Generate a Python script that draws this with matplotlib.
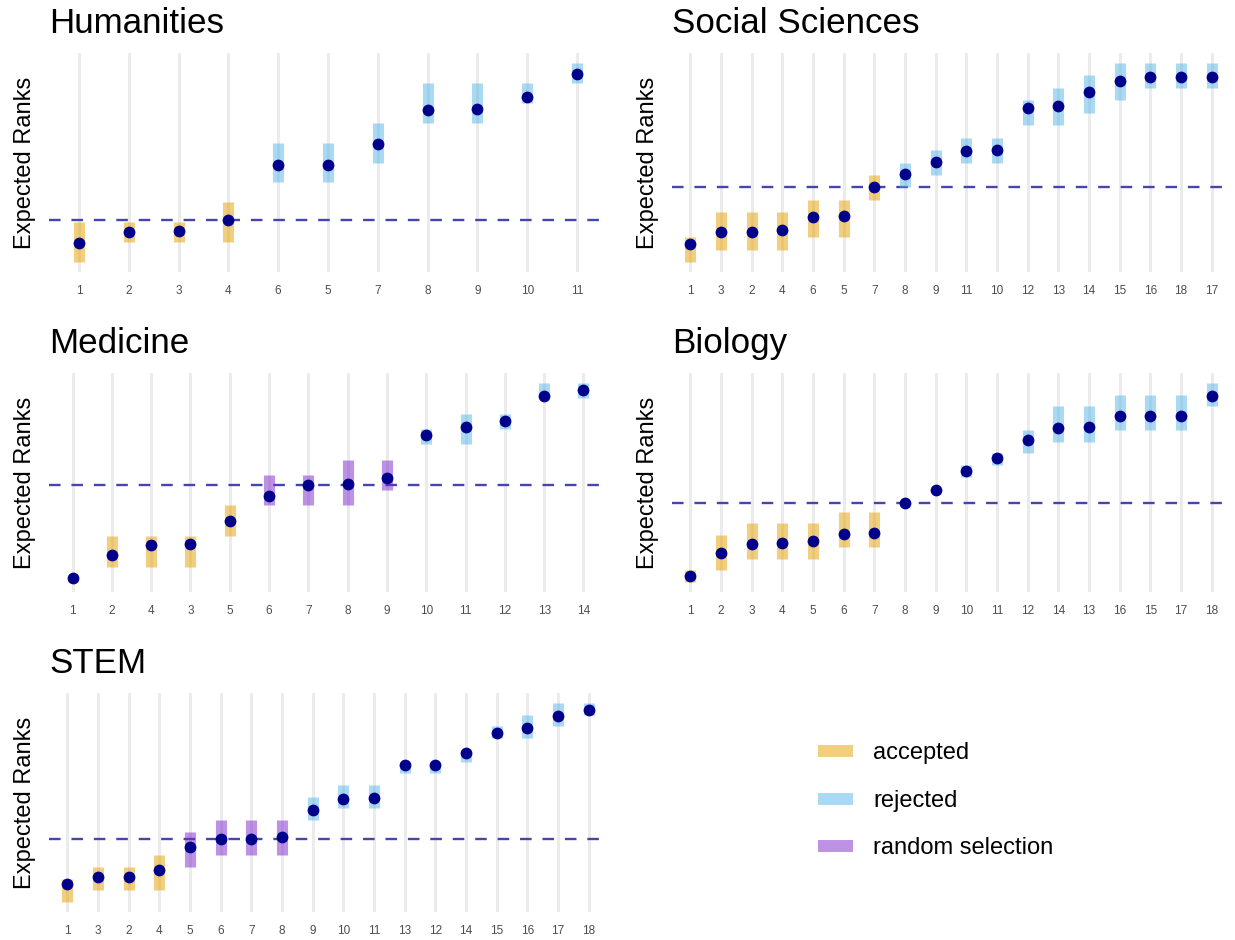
import matplotlib
matplotlib.use("Agg")
import matplotlib.pyplot as plt
from matplotlib.lines import Line2D

plt.rcParams['font.family'] = ['Liberation Sans', 'DejaVu Sans']

# ---------------- data ----------------
hum_labels = ["1", "2", "3", "4", "6", "5", "7", "8", "9", "10", "11"]
hum_rank = [1.95, 2.49, 2.54, 3.13, 5.87, 5.87, 6.95, 8.62, 8.69, 9.31, 10.45]
hum_lo = [1, 2, 2, 2, 5, 5, 6, 8, 8, 9, 10]
hum_hi = [3, 3, 3, 4, 7, 7, 8, 10, 10, 10, 11]
hum_status = ["accepted"] * 4 + ["rejected"] * 7
hum_threshold = 3.13

soc_labels = ["1", "3", "2", "4", "6", "5", "7", "8", "9", "11", "10", "12",
              "13", "14", "15", "16", "18", "17"]
soc_rank = [2.47, 3.41, 3.44, 3.57, 4.62, 4.67, 7.0, 8.08, 9.07, 9.95, 9.98,
            13.38, 13.54, 14.67, 15.53, 15.85, 15.85, 15.88]
soc_lo = [1, 2, 2, 2, 3, 3, 6, 7, 8, 9, 9, 12, 12, 13, 14, 15, 15, 15]
soc_hi = [3, 5, 5, 5, 6, 6, 8, 9, 10, 11, 11, 14, 15, 16, 17, 17, 17, 17]
soc_status = ["accepted"] * 7 + ["rejected"] * 11
soc_threshold = 7.0

med_labels = ["1", "2", "4", "3", "5", "6", "7", "8", "9", "10", "11", "12",
              "13", "14"]
med_rank = [1.26, 2.74, 3.44, 3.46, 4.99, 6.60, 7.32, 7.42, 7.79, 10.58,
            11.10, 11.52, 13.15, 13.54]
med_lo = [1, 2, 2, 2, 4, 6, 6, 6, 7, 10, 10, 11, 13, 13]
med_hi = [1.2, 4, 4, 4, 6, 8, 8, 9, 9, 11, 12, 12, 14, 14]
med_status = (["accepted"] * 5 + ["random selection"] * 4 + ["rejected"] * 5)
med_threshold = 7.34

bio_labels = ["1", "2", "3", "4", "5", "6", "7", "8", "9", "10", "11", "12",
              "14", "13", "16", "15", "17", "18"]
bio_rank = [1.48, 3.48, 4.27, 4.30, 4.53, 5.13, 5.16, 7.78, 8.83, 10.45,
            11.62, 13.10, 14.18, 14.21, 15.15, 15.15, 15.18, 16.86]
bio_lo = [1, 2, 3, 3, 3, 4, 4, 8, 9, 10, 11, 12, 13, 13, 14, 14, 14, 16]
bio_hi = [2, 5, 6, 6, 6, 7, 7, 8, 9, 11, 12, 14, 16, 16, 17, 17, 17, 18]
bio_status = ["accepted"] * 7 + ["rejected"] * 11
bio_threshold = 7.78

stem_labels = ["1", "3", "2", "4", "5", "6", "7", "8", "9", "10", "11", "13",
               "12", "14", "15", "16", "17", "18"]
stem_rank = [2.57, 3.14, 3.14, 3.76, 5.70, 6.38, 6.38, 6.58, 8.83, 9.83,
             9.88, 12.73, 12.73, 13.73, 15.46, 15.83, 16.89, 17.43]
stem_lo = [1, 2, 2, 2, 4, 5, 5, 5, 8, 9, 9, 12, 12, 13, 15, 15, 16, 17]
stem_hi = [3, 4, 4, 5, 7, 8, 8, 8, 10, 11, 11, 13, 13, 14, 16, 17, 18, 18]
stem_status = (["accepted"] * 4 + ["random selection"] * 4 + ["rejected"] * 10)
stem_threshold = 6.38

status_colors = {"accepted": "#E69F00", "rejected": "#56B4E9",
                 "random selection": "#7D26CD"}
legend_order = ["accepted", "rejected", "random selection"]

panels = [
    ("Humanities", hum_labels, hum_rank, hum_lo, hum_hi, hum_status, hum_threshold),
    ("Social Sciences", soc_labels, soc_rank, soc_lo, soc_hi, soc_status, soc_threshold),
    ("Medicine", med_labels, med_rank, med_lo, med_hi, med_status, med_threshold),
    ("Biology", bio_labels, bio_rank, bio_lo, bio_hi, bio_status, bio_threshold),
    ("STEM", stem_labels, stem_rank, stem_lo, stem_hi, stem_status, stem_threshold),
]

# ---------------- layout ----------------
W, H = 1235, 940
fig = plt.figure(figsize=(W / 100, H / 100), dpi=100)
col_x = [49, 672]
row_top = [53, 373, 693]
ax_w, ax_h = 558, 219

for i, (title, labels, rank, lo, hi, status, thr) in enumerate(panels):
    r, c = divmod(i, 2)
    left = col_x[c] / W
    bottom = 1 - (row_top[r] + ax_h) / H
    ax = fig.add_axes([left, bottom, ax_w / W, ax_h / H])
    n = len(labels)
    x = list(range(n))
    for xi in x:
        ax.axvline(xi, color="#EBEBEB", lw=2.2, zorder=0)
    ax.axhline(thr, color="#4545ad", lw=1.7, ls=(0, (4.9, 4.6)), zorder=2)
    for xi, l, h, s in zip(x, lo, hi, status):
        ax.vlines(xi, l, h, color=status_colors[s], alpha=0.5, lw=8.0,
                  capstyle="butt", zorder=3)
    ax.scatter(x, rank, s=72, color="#00008B", zorder=4, linewidths=0)
    ymin = min(min(lo), min(rank))
    ymax = max(max(hi), max(rank))
    pad = 0.05 * (ymax - ymin)
    ax.set_ylim(ymin - pad, ymax + pad)
    ax.set_xlim(-0.6, n - 1 + 0.6)
    ax.set_xticks(x)
    ax.set_xticklabels(labels)
    ax.set_yticks([])
    ax.tick_params(axis="x", length=0, pad=9, labelsize=8.5, labelcolor="#4D4D4D")
    for sp in ax.spines.values():
        sp.set_visible(False)
    ax.set_title(title, loc="left", fontsize=25.2, pad=14.5, color="black")
    ax.set_ylabel("Expected Ranks", fontsize=17, color="black")
    ax.yaxis.set_label_coords(-0.024, 0.5)

handles = [Line2D([0], [0], color=status_colors[s], alpha=0.5, lw=8.6,
                  solid_capstyle="butt") for s in legend_order]
fig.legend(handles, legend_order, loc="center left",
           bbox_to_anchor=(818 / W, 1 - 801 / H), frameon=False,
           fontsize=17, handlelength=1.5, handletextpad=0.85,
           labelspacing=1.08, borderpad=0, borderaxespad=0)

fig.savefig("out.png", dpi=100, facecolor="white")
